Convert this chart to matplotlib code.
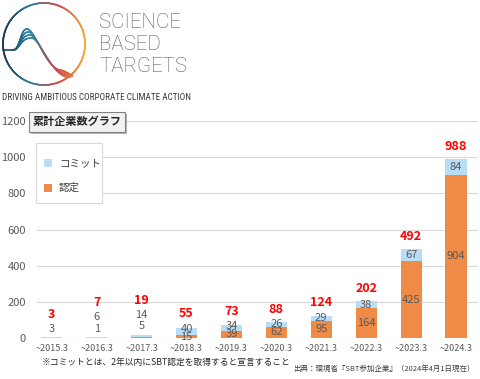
import numpy as np
import matplotlib
matplotlib.use("Agg")
import matplotlib.pyplot as plt
from matplotlib import font_manager
from matplotlib.collections import LineCollection
from matplotlib.colors import LinearSegmentedColormap
from matplotlib.patches import Rectangle
import matplotlib.patheffects as pe

plt.rcParams['font.family'] = ['Noto Sans CJK JP', 'DejaVu Sans']

# ---- data ----
categories = ['~2015.3', '~2016.3', '~2017.3', '~2018.3', '~2019.3',
              '~2020.3', '~2021.3', '~2022.3', '~2023.3', '~2024.3']
certified = [0, 1, 5, 15, 39, 62, 95, 164, 425, 904]
committed = [3, 6, 14, 40, 34, 26, 29, 38, 67, 84]
totals = [3, 7, 19, 55, 73, 88, 124, 202, 492, 988]
yticks = [0, 200, 400, 600, 800, 1000, 1200]
legend_labels = ['コミット', '認定']
title_text = '累計企業数グラフ'
note_text = '※コミットとは、2年以内にSBT認定を取得すると宣言すること'
source_text = '出典：環境省『SBT参加企業』（2024年4月1日現在）'
logo_lines = ['SCIENCE', 'BASED', 'TARGETS']
tagline = 'DRIVING AMBITIOUS CORPORATE CLIMATE ACTION'

C_COMMIT = '#b7ddf7'
C_CERT = '#ef8b47'
C_LABEL = '#595959'


def pick_font(names):
    for n in names:
        try:
            font_manager.findfont(n, fallback_to_default=False)
            return n
        except Exception:
            continue
    return 'DejaVu Sans'


W, H = 480, 379
fig = plt.figure(figsize=(W / 100, H / 100), dpi=100)

# ---- main chart ----
ax = fig.add_axes([37 / W, 41 / H, 441 / W, 217 / H])
x = np.arange(len(categories))
bw = 0.47
ax.bar(x, certified, width=bw, color=C_CERT, zorder=2)
ax.bar(x, committed, width=bw, bottom=certified, color=C_COMMIT, zorder=2)
ax.set_xlim(-0.33, 9.49)
ax.set_ylim(0, 1200)
ax.set_yticks(yticks)
ax.set_yticklabels([str(v) for v in yticks], color=C_LABEL, fontsize=8)
ax.set_xticks(x)
ax.set_xticklabels(categories, color=C_LABEL, fontsize=6.5)
ax.tick_params(axis='y', length=0, pad=8)
ax.tick_params(axis='x', length=0, pad=4)
ax.grid(axis='y', color='#d9d9d9', lw=0.8, zorder=0)
for s in ax.spines.values():
    s.set_visible(False)

# data labels
for i in range(len(categories)):
    c, m, t = certified[i], committed[i], totals[i]
    labels = []
    if t < 30:
        y = t + 45
        if c > 0:
            labels.append((y, c))
            y += 65
        labels.append((y, m))
        ytot = y + 80
    else:
        yc = c / 2
        ym = max(c + m / 2, yc + 45)
        labels.append((yc, c))
        labels.append((ym, m))
        ytot = max(t + 72, ym + 82)
    for yy, v in labels:
        ax.text(i, yy, str(v), ha='center', va='center', fontsize=8,
                color=C_LABEL, zorder=3)
    ax.text(i, ytot, str(t), ha='center', va='center', fontsize=9,
            color='#ff0000', fontweight='bold', zorder=3)

# ---- overlay for legend, logo and texts (pixel coords) ----
ov = fig.add_axes([0, 0, 1, 1], zorder=5)
ov.set_xlim(0, W)
ov.set_ylim(H, 0)
ov.axis('off')
ov.patch.set_alpha(0)

# legend (drawn manually to match the reference box)
ov.add_patch(Rectangle((36, 143), 66, 60, fc='white', ec='#d9d9d9', lw=0.8))
for j, (lab, col) in enumerate(zip(legend_labels, [C_COMMIT, C_CERT])):
    yc = 163 + 25 * j
    ov.add_patch(Rectangle((44, yc - 4), 8, 8, fc=col, ec='none'))
    ov.text(59, yc, lab, fontsize=7.6, color='#404040', ha='left',
            va='center')

cmap = LinearSegmentedColormap.from_list(
    'sbt', ['#1b3550', '#2a86a6', '#d24a4a', '#f5a83a'])
cx, cy, r = 44.0, 44.0, 41.0


def grad_line(xs, ys, lw):
    pts = np.column_stack([xs, ys])
    segs = np.stack([pts[:-1], pts[1:]], axis=1)
    xm = (xs[:-1] + xs[1:]) / 2
    col = cmap(np.clip((xm - (cx - r)) / (2 * r), 0, 1))
    lc = LineCollection(segs, colors=col, linewidths=lw, capstyle='round')
    ov.add_collection(lc)


tt = np.linspace(0, 2 * np.pi, 400)
grad_line(cx + r * np.cos(tt), cy - r * np.sin(tt), 1.2)


def bez(p0, p1, p2, p3, n=60):
    s = np.linspace(0, 1, n)[:, None]
    p0, p1, p2, p3 = map(np.array, (p0, p1, p2, p3))
    return ((1 - s) ** 3) * p0 + 3 * ((1 - s) ** 2) * s * p1 + \
        3 * (1 - s) * s * s * p2 + s ** 3 * p3


grad_line(np.array([cx - r, 13.0]), np.array([50.0, 50.0]), 1.2)
for k in range(4):
    a = bez((13, 50), (20, 50), (20, 29 + 3 * k), (27 + 1.5 * k, 29 + 3 * k))
    b = bez((27 + 1.5 * k, 29 + 3 * k), (35 + 1.5 * k, 29 + 3 * k),
            (45 + 2 * k, 67 + 2 * k), (60 + 2 * k, 70 + 2.3 * k))
    c2 = bez((60 + 2 * k, 70 + 2.3 * k), (65 + k, 71 + 2 * k),
             (70, 74 + k), (72, 76))
    pts = np.vstack([a, b, c2])
    grad_line(pts[:, 0], pts[:, 1], 1.0)

logo_font = pick_font(['Roboto', 'Open Sans', 'Lato', 'DejaVu Sans'])
for j, line in enumerate(logo_lines):
    ov.text(99, 23 + 22 * j, line, fontsize=14.8, color='#58595b',
            family=logo_font, fontweight='light', ha='left', va='center')

tag_font = pick_font(['Liberation Sans Narrow', 'Roboto Condensed',
                      'Liberation Sans'])
ov.text(2, 98, tagline, fontsize=6.6, color='#3a3a3a', family=tag_font,
        ha='left', va='center')

# title box
tb = ov.text(77, 122, title_text, fontsize=8, fontweight='bold',
             color='#262626', ha='center', va='center',
             bbox=dict(boxstyle='square,pad=0.33', fc='#f2f2f2',
                       ec='#808080', lw=0.8))
tb.get_bbox_patch().set_path_effects(
    [pe.SimplePatchShadow(offset=(1.5, -1.5), alpha=0.4), pe.Normal()])

ov.text(42, 362, note_text, fontsize=6.3, color='#262626',
        ha='left', va='center')
ov.text(475, 369, source_text, fontsize=5.4, color='#404040',
        ha='right', va='center')

fig.savefig('out.png', dpi=100)
